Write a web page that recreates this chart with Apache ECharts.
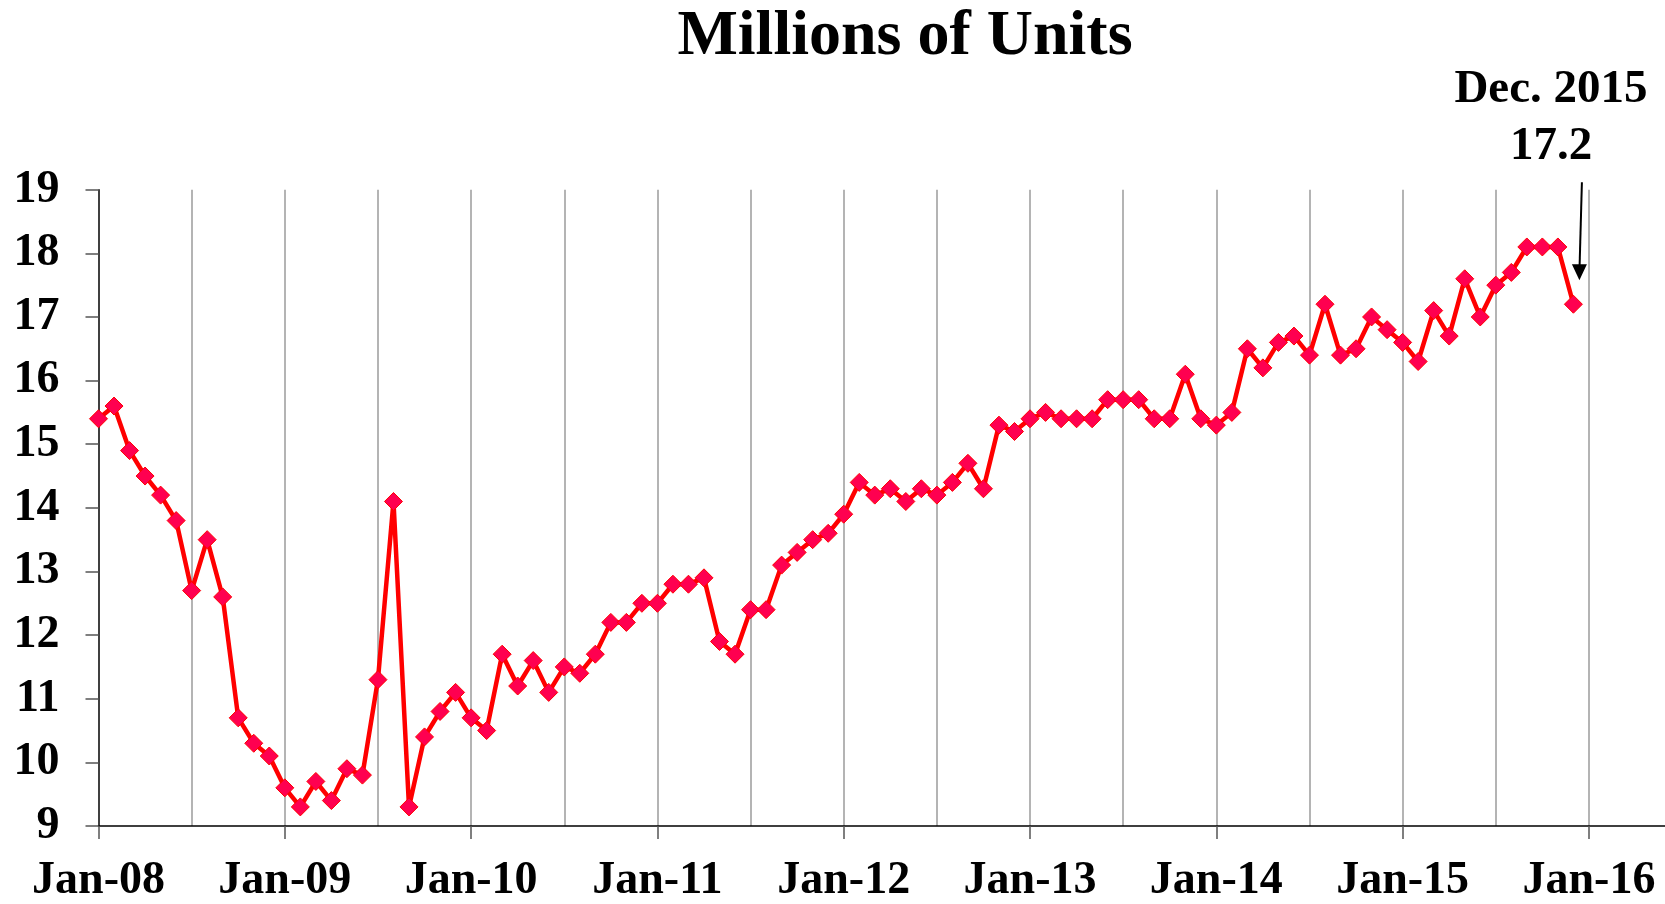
<!DOCTYPE html>
<html>
<head>
<meta charset="utf-8">
<title>Millions of Units</title>
<script src="https://cdn.jsdelivr.net/npm/echarts@6/dist/echarts.min.js"></script>
<style>
html, body { margin: 0; padding: 0; background: #fff; }
#chart { width: 1665px; height: 904px; }
</style>
</head>
<body>
<div id="chart"></div>
<script>
// monthly sales, millions of units (Jan..Dec)
var y2008 = [15.4, 15.6, 14.9, 14.5, 14.2, 13.8, 12.7, 13.5, 12.6, 10.7, 10.3, 10.1];
var y2009 = [9.6, 9.3, 9.7, 9.4, 9.9, 9.8, 11.3, 14.1, 9.3, 10.4, 10.8, 11.1];
var y2010 = [10.7, 10.5, 11.7, 11.2, 11.6, 11.1, 11.5, 11.4, 11.7, 12.2, 12.2, 12.5];
var y2011 = [12.5, 12.8, 12.8, 12.9, 11.9, 11.7, 12.4, 12.4, 13.1, 13.3, 13.5, 13.6];
var y2012 = [13.9, 14.4, 14.2, 14.3, 14.1, 14.3, 14.2, 14.4, 14.7, 14.3, 15.3, 15.2];
var y2013 = [15.4, 15.5, 15.4, 15.4, 15.4, 15.7, 15.7, 15.7, 15.4, 15.4, 16.1, 15.4];
var y2014 = [15.3, 15.5, 16.5, 16.2, 16.6, 16.7, 16.4, 17.2, 16.4, 16.5, 17.0, 16.8];
var y2015 = [16.6, 16.3, 17.1, 16.7, 17.6, 17.0, 17.5, 17.7, 18.1, 18.1, 18.1, 17.2];

// x tick labels, one per January
var yearLabels = ['Jan-08', 'Jan-09', 'Jan-10', 'Jan-11', 'Jan-12', 'Jan-13', 'Jan-14', 'Jan-15', 'Jan-16'];
var yTicks = [9, 10, 11, 12, 13, 14, 15, 16, 17, 18, 19];
var noteLabel = 'Dec. 2015';

var sales = [].concat(y2008, y2009, y2010, y2011, y2012, y2013, y2014, y2015);
var points = sales.map(function (v, i) { return [i, v]; });

var serif = "'Liberation Serif', 'Times New Roman', serif";
var gridGray = '#b4b4b4';

var myChart = echarts.init(document.getElementById('chart'));

var option = {
  animation: false,
  backgroundColor: '#fff',
  title: {
    text: 'Millions of Units',
    left: 905,
    top: 5,
    padding: 0,
    textAlign: 'center',
    textStyle: { fontFamily: serif, fontWeight: 'bold', fontSize: 64, color: '#000' }
  },
  grid: { left: 98.5, right: 0, top: 189.7, bottom: 73.7 },
  xAxis: [{
    type: 'value',
    min: 0,
    max: 100.9,
    interval: 12,
    axisLine: { lineStyle: { color: '#000', width: 1.5 } },
    axisTick: { length: 13, lineStyle: { color: '#555', width: 1.5 } },
    axisLabel: {
      margin: 32,
      showMaxLabel: false,
      fontFamily: serif, fontWeight: 'bold', fontSize: 46, color: '#000',
      formatter: function (v) { return v % 12 === 0 ? yearLabels[v / 12] : ''; }
    },
    splitLine: { show: false }
  }, {
    // only used for the half-year gridlines
    type: 'value',
    position: 'bottom',
    min: 0,
    max: 100.9,
    interval: 6,
    axisLine: { show: false },
    axisTick: { show: false },
    axisLabel: { show: false },
    splitLine: { show: true, showMinLine: false, showMaxLine: false, lineStyle: { color: gridGray, width: 2 } }
  }],
  yAxis: {
    type: 'value',
    min: yTicks[0],
    max: yTicks[yTicks.length - 1],
    interval: 1,
    axisLine: { show: true, lineStyle: { color: '#000', width: 1.5 } },
    axisTick: { show: true, length: 13, lineStyle: { color: '#555', width: 1.5 } },
    axisLabel: { margin: 39, fontFamily: serif, fontWeight: 'bold', fontSize: 46, color: '#000' },
    splitLine: { show: false }
  },
  series: [{
    name: 'sales',
    type: 'line',
    data: points,
    symbol: 'diamond',
    symbolSize: 18,
    lineStyle: { color: '#ff0000', width: 4.5 },
    itemStyle: { color: '#ff0050', borderColor: '#ff0000', borderWidth: 1 },
    z: 3
  }]
};
myChart.setOption(option);

// callout for the last month
var last = points[points.length - 1];
var p = myChart.convertToPixel({ gridIndex: 0 }, last);
var tipX = p[0] + 6, tipY = p[1] - 24;
var topX = p[0] + 8.5, topY = p[1] - 122;
myChart.setOption({
  graphic: [{
    type: 'line',
    shape: { x1: topX, y1: topY, x2: tipX + 0.2, y2: tipY - 14 },
    style: { stroke: '#000', lineWidth: 2 }
  }, {
    type: 'polygon',
    shape: { points: [[tipX, tipY], [tipX - 7.5, tipY - 16], [tipX + 7.5, tipY - 16]] },
    style: { fill: '#000' }
  }, {
    type: 'text',
    x: 1551,
    y: 61,
    style: {
      text: noteLabel + '\n' + last[1].toFixed(1),
      align: 'center',
      verticalAlign: 'top',
      lineHeight: 57,
      font: 'bold 47px ' + serif,
      fill: '#000'
    }
  }]
});

window.addEventListener('resize', function () { myChart.resize(); });
</script>
</body>
</html>
